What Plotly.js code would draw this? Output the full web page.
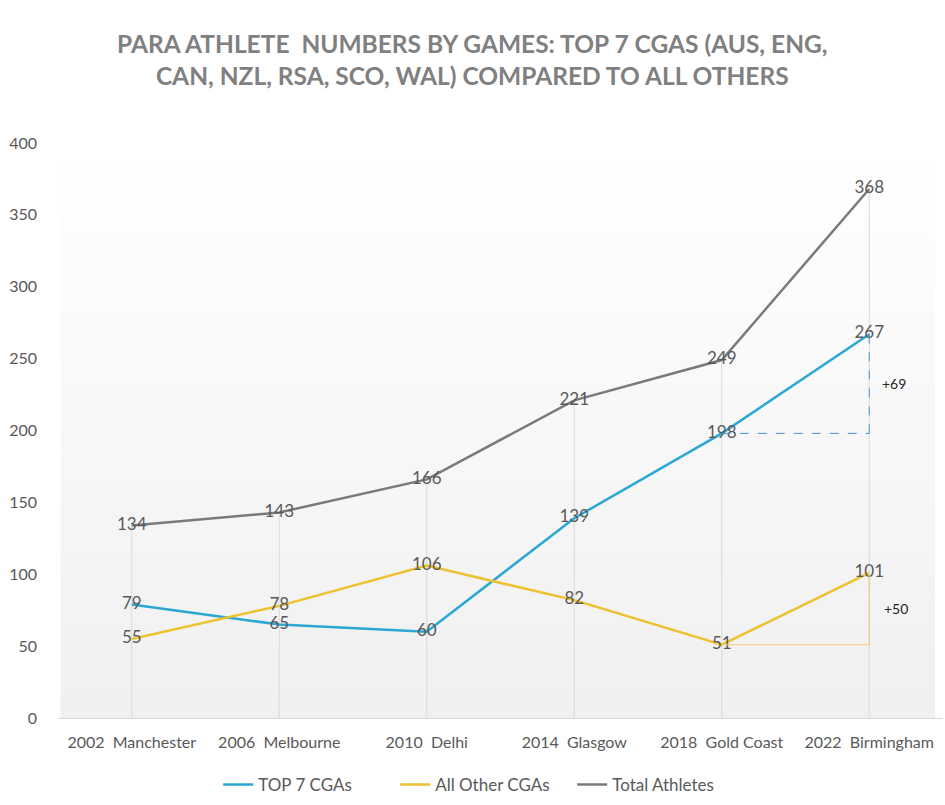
<!DOCTYPE html>
<html>
<head>
<meta charset="utf-8">
<script src="https://cdn.plot.ly/plotly-3.0.1.min.js"></script>
<style>html,body{margin:0;padding:0;background:#fff;}#chart{width:945px;height:805px;}</style>
</head>
<body>
<div id="chart"></div>
<script>
const categories = ["2002  Manchester", "2006  Melbourne", "2010  Delhi", "2014  Glasgow", "2018  Gold Coast", "2022  Birmingham"];
const top7 = [79, 65, 60, 139, 198, 267];
const others = [55, 78, 106, 82, 51, 101];
const total = [134, 143, 166, 221, 249, 368];
const seriesNames = ["TOP 7 CGAs", "All Other CGAs", "Total Athletes"];
const titleText = "PARA ATHLETE  NUMBERS BY GAMES: TOP 7 CGAS (AUS, ENG,<br>CAN, NZL, RSA, SCO, WAL) COMPARED TO ALL OTHERS";

const FAM = "Lato, 'Open Sans', sans-serif";
const labelFont = {family: FAM, size: 17, color: "#595959"};
function series(y, name, color) {
  return {
    x: categories, y: y, name: name, type: "scatter", mode: "lines+text",
    line: {color: color, width: 2.5},
    text: y.map(String), textposition: "middle center", textfont: labelFont,
    hoverinfo: "skip", cliponaxis: false
  };
}
const traces = [
  series(top7, seriesNames[0], "#2AA7D3"),
  series(others, seriesNames[1], "#EDC230"),
  series(total, seriesNames[2], "#7A7A7A")
];

const shapes = [];
// gradient plot background
const bands = 24;
for (let i = 0; i < bands; i++) {
  const t = i / (bands - 1);
  const c = Math.round(255 - t * 15);
  shapes.push({type: "rect", xref: "paper", yref: "paper", x0: 0.003, x1: 0.991,
    y0: 1 - (i + 1) / bands, y1: 1 - i / bands, fillcolor: `rgb(${c},${c},${c})`,
    line: {width: 0}, layer: "below"});
}
// drop lines from highest point to axis
categories.forEach((c, i) => {
  shapes.push({type: "line", xref: "x", yref: "y", x0: c, x1: c, y0: 0, y1: total[i],
    line: {color: "#DADADA", width: 1}, layer: "below"});
});
// change brackets
const a = categories.length - 2, b = categories.length - 1;
shapes.push({type: "line", xref: "x", yref: "y", x0: categories[a], x1: categories[b], y0: top7[a], y1: top7[a],
  line: {color: "#4A90D9", width: 1, dash: "dash"}});
shapes.push({type: "line", xref: "x", yref: "y", x0: categories[b], x1: categories[b], y0: top7[a], y1: top7[b],
  line: {color: "#4A90D9", width: 1, dash: "dash"}});
shapes.push({type: "line", xref: "x", yref: "y", x0: categories[a], x1: categories[b], y0: others[a], y1: others[a],
  line: {color: "#F4C77A", width: 1}});
shapes.push({type: "line", xref: "x", yref: "y", x0: categories[b], x1: categories[b], y0: others[a], y1: others[b],
  line: {color: "#F4C77A", width: 1}});

const annFont = {family: FAM, size: 14, color: "#262626"};
const annotations = [
  {x: categories[b], y: (top7[a] + top7[b]) / 2, xref: "x", yref: "y", text: "+" + (top7[b] - top7[a]),
   showarrow: false, xshift: 25, font: annFont},
  {x: categories[b], y: (others[a] + others[b]) / 2, xref: "x", yref: "y", text: "+" + (others[b] - others[a]),
   showarrow: false, xshift: 27, font: annFont},
  {x: 0.468, y: 1.145, xref: "paper", yref: "paper", xanchor: "center", yanchor: "middle",
   text: titleText, showarrow: false, align: "center",
   font: {family: FAM, size: 24.5, color: "#808080", weight: "bold"}}
];

const layout = {
  width: 945, height: 805,
  margin: {l: 58, r: 2, t: 143, b: 87},
  paper_bgcolor: "#ffffff", plot_bgcolor: "rgba(0,0,0,0)",
  font: {family: FAM, color: "#595959"},
  xaxis: {type: "category", range: [-0.5, 5.5], showgrid: false, zeroline: false,
    showline: true, linecolor: "#D9D9D9", linewidth: 1, ticks: "",
    tickfont: {size: 16, color: "#595959"}, ticklabelstandoff: 10, fixedrange: true},
  yaxis: {range: [0, 400], dtick: 50, showgrid: false, zeroline: false, showline: false,
    ticks: "", tickfont: {size: 16, color: "#595959"}, ticklabelstandoff: 20, fixedrange: true},
  showlegend: true,
  legend: {orientation: "h", x: 0.181, xanchor: "left", y: -0.085, yanchor: "top",
    font: {size: 17, color: "#595959"}, traceorder: "normal", itemwidth: 30,
    entrywidth: 132, entrywidthmode: "pixels"},
  shapes: shapes, annotations: annotations
};

Plotly.newPlot("chart", traces, layout, {displayModeBar: false, staticPlot: true});
</script>
</body>
</html>
